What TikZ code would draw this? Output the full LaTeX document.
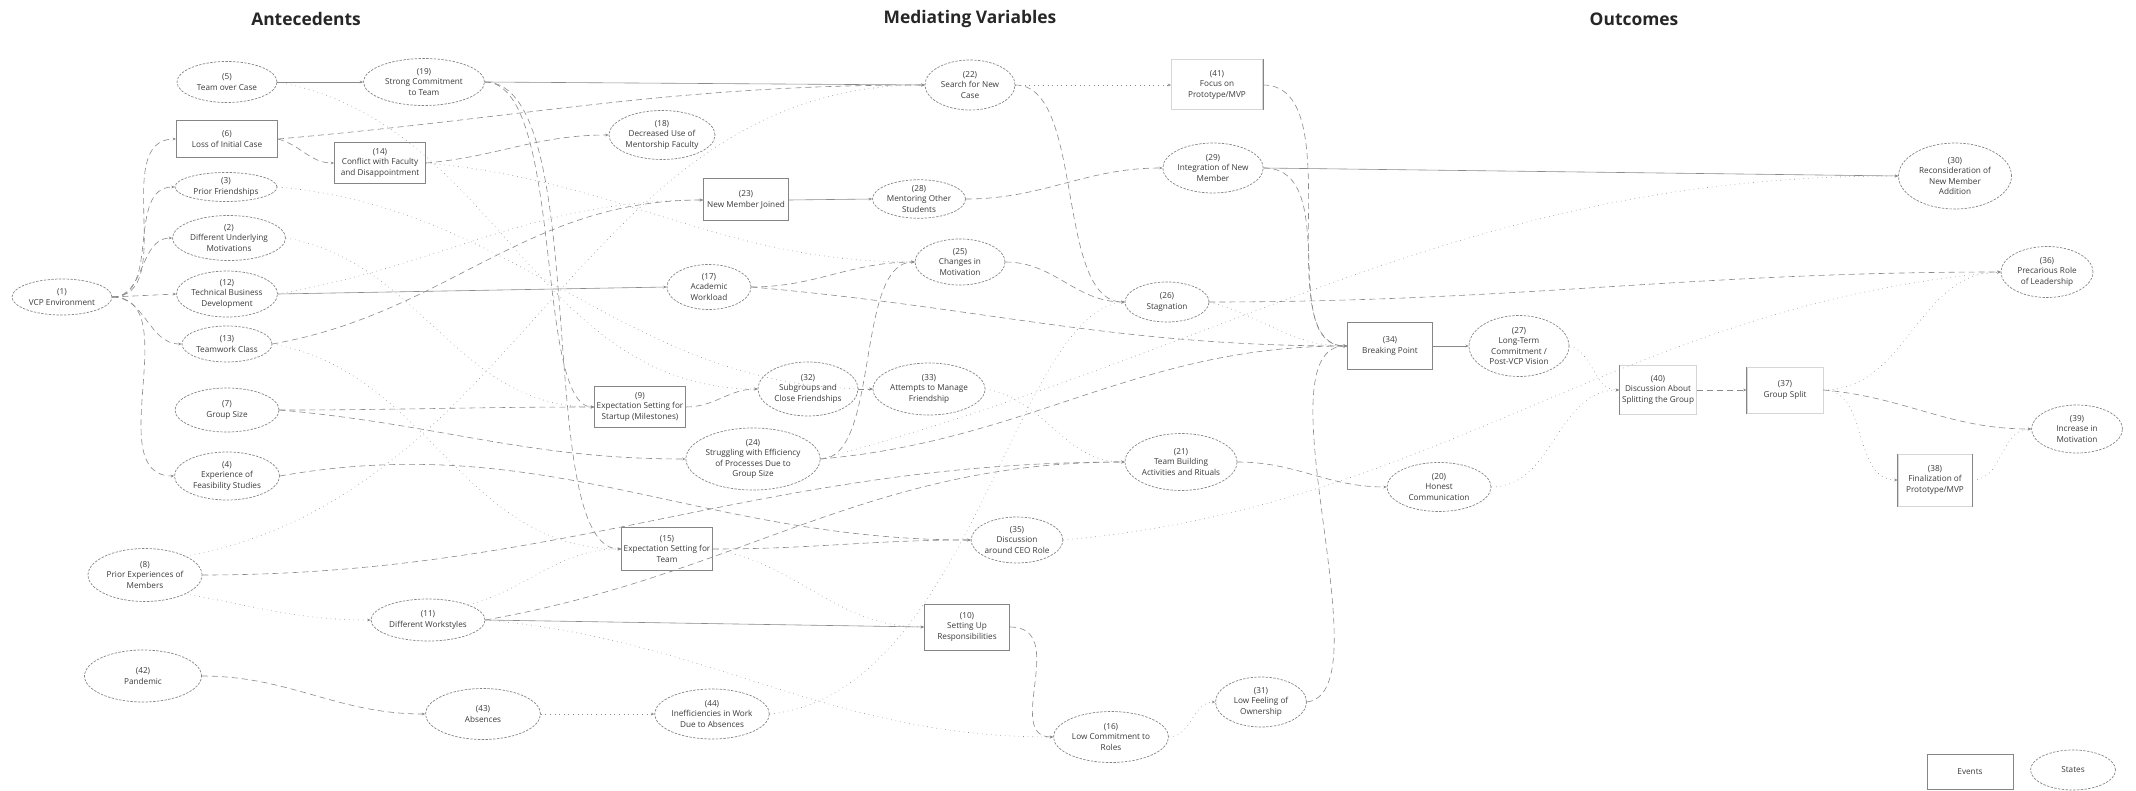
\documentclass[tikz,border=0pt]{standalone}
\usepackage{fontspec}
\setmainfont{Open Sans}
\usetikzlibrary{shapes.geometric,arrows.meta}
\definecolor{ink}{HTML}{3A3A3A}
\definecolor{edgegray}{HTML}{8A8A8A}
\definecolor{boxgray}{HTML}{858585}
\definecolor{faint}{HTML}{D6D6D6}
\newcommand{\nodefont}{\fontsize{4.1}{5.3}\selectfont}
\newcommand{\headfont}{\fontsize{8.7}{10}\selectfont\bfseries}
\tikzset{
  state/.style={ellipse, draw=boxgray, dash pattern=on 1.2pt off 0.7pt, line width=0.35pt,
                inner sep=0pt, align=center, font=\nodefont, text=ink},
  event/.style={rectangle, draw=boxgray, line width=0.5pt, inner sep=1pt,
                align=center, font=\nodefont, text=ink},
  faintevent/.style={event, draw=faint},
  heading/.style={font=\headfont, text=black!85},
  flow/.style={-{Stealth[length=1.7pt,width=1.4pt]}, line width=0.3pt, draw=edgegray},
  dashedflow/.style={flow, densely dashed},
  dottedflow/.style={flow, dotted},
  edgemark/.style={line width=0.5pt, draw=boxgray}
}
\begin{document}
\begin{tikzpicture}[x=0.5pt,y=-0.5pt]
\useasboundingbox (0,0) rectangle (2136,791);

\node[heading] (hant) at (306,19) {Antecedents};
\node[heading] (hmed) at (970,19) {Mediating Variables};
\node[heading] (hout) at (1634,19) {Outcomes};

\node[state, minimum width=50pt, minimum height=18pt] (n1) at (62,297) {(1)\\VCP Environment};
\node[state, minimum width=50pt, minimum height=20.5pt] (n5) at (227,82) {(5)\\Team over Case};
\node[event, minimum width=50.5pt, minimum height=18.5pt] (n6) at (227,139) {(6)\\Loss of Initial Case};
\node[state, minimum width=51pt, minimum height=14.5pt] (n3) at (226,187) {(3)\\Prior Friendships};
\node[state, minimum width=56.5pt, minimum height=22.5pt] (n2) at (229,238) {(2)\\Different Underlying\\Motivations};
\node[state, minimum width=50.5pt, minimum height=23pt] (n12) at (227,294) {(12)\\Technical Business\\Development};
\node[state, minimum width=45pt, minimum height=18pt] (n13) at (227,344) {(13)\\Teamwork Class};
\node[state, minimum width=52pt, minimum height=22pt] (n7) at (227,410) {(7)\\Group Size};
\node[state, minimum width=52.5pt, minimum height=24pt] (n4) at (227,476) {(4)\\Experience of\\Feasibility Studies};
\node[state, minimum width=57pt, minimum height=26.5pt] (n8) at (145,575) {(8)\\Prior Experiences of\\Members};
\node[state, minimum width=58.5pt, minimum height=26pt] (n42) at (143,676) {(42)\\Pandemic};

\node[state, minimum width=60.5pt, minimum height=23.5pt] (n19) at (424,82) {(19)\\Strong Commitment\\to Team};
\node[event, minimum width=45.5pt, minimum height=20.5pt] (n14) at (380,163) {(14)\\Conflict with Faculty\\and Disappointment};
\node[state, minimum width=53pt, minimum height=24.5pt] (n18) at (662,135) {(18)\\Decreased Use of\\Mentorship Faculty};
\node[event, minimum width=45pt, minimum height=20.5pt] (n9) at (640,407) {(9)\\Expectation Setting for\\Startup (Milestones)};
\node[event, minimum width=45pt, minimum height=21.5pt] (n15) at (667,549) {(15)\\Expectation Setting for\\Team};
\node[state, minimum width=57pt, minimum height=21pt] (n11) at (428,620) {(11)\\Different Workstyles};
\node[state, minimum width=57.5pt, minimum height=25.5pt] (n43) at (483,714) {(43)\\Absences};
\node[state, minimum width=57pt, minimum height=25pt] (n44) at (712,714) {(44)\\Inefficiencies in Work\\Due to Absences};

\node[state, minimum width=45pt, minimum height=25pt] (n22) at (970,85) {(22)\\Search for New\\Case};
\node[event, minimum width=42.5pt, minimum height=21pt] (n23) at (746,200) {(23)\\New Member Joined};
\node[state, minimum width=46.5pt, minimum height=19pt] (n28) at (919,199) {(28)\\Mentoring Other\\Students};
\node[state, minimum width=45pt, minimum height=23pt] (n25) at (960,262) {(25)\\Changes in\\Motivation};
\node[state, minimum width=42pt, minimum height=22.5pt] (n17) at (709,287) {(17)\\Academic\\Workload};
\node[state, minimum width=50pt, minimum height=27pt] (n32) at (808,389) {(32)\\Subgroups and\\Close Friendships};
\node[state, minimum width=56pt, minimum height=26pt] (n33) at (929,389) {(33)\\Attempts to Manage\\Friendship};
\node[state, minimum width=66pt, minimum height=31pt] (n24) at (753,459) {(24)\\Struggling with Efficiency\\of Processes Due to\\Group Size};
\node[state, minimum width=45pt, minimum height=23pt] (n35) at (1017,540) {(35)\\Discussion\\around CEO Role};
\node[event, minimum width=42.5pt, minimum height=23pt] (n10) at (967,627) {(10)\\Setting Up\\Responsibilities};
\node[state, minimum width=56pt, minimum height=28.5pt] (n21) at (1181,462) {(21)\\Team Building\\Activities and Rituals};
\node[state, minimum width=45.5pt, minimum height=25pt] (n31) at (1261,702) {(31)\\Low Feeling of\\Ownership};
\node[state, minimum width=57.5pt, minimum height=25.5pt] (n16) at (1111,737) {(16)\\Low Commitment to\\Roles};
\node[faintevent, minimum width=45.5pt, minimum height=25pt] (n41) at (1217,85) {(41)\\Focus on\\Prototype/MVP};
\node[state, minimum width=50pt, minimum height=25pt] (n29) at (1213,168) {(29)\\Integration of New\\Member};
\node[state, minimum width=42pt, minimum height=20pt] (n26) at (1167,302) {(26)\\Stagnation};

\node[event, minimum width=42.5pt, minimum height=23.5pt] (n34) at (1390,346) {(34)\\Breaking Point};
\node[state, minimum width=50pt, minimum height=30.5pt] (n27) at (1519,346) {(27)\\Long-Term\\Commitment /\\Post-VCP Vision};
\node[faintevent, minimum width=38.5pt, minimum height=24.5pt] (n40) at (1658,390) {(40)\\Discussion About\\Splitting the Group};
\node[faintevent, minimum width=38pt, minimum height=23pt] (n37) at (1785,390) {(37)\\Group Split};
\node[state, minimum width=56.5pt, minimum height=33pt] (n30) at (1955,176) {(30)\\Reconsideration of\\New Member\\Addition};
\node[state, minimum width=46pt, minimum height=25.5pt] (n36) at (2047,272) {(36)\\Precarious Role\\of Leadership};
\node[state, minimum width=45.5pt, minimum height=24pt] (n39) at (2077,429) {(39)\\Increase in\\Motivation};
\node[faintevent, minimum width=37pt, minimum height=26pt] (n38) at (1935,480) {(38)\\Finalization of\\Prototype/MVP};
\node[state, minimum width=52pt, minimum height=24.5pt] (n20) at (1439,487) {(20)\\Honest\\Communication};

\node[event, minimum width=43pt, minimum height=17.5pt] (events) at (1970,772) {Events};
\node[state, minimum width=42.5pt, minimum height=20pt] (states) at (2073,770) {States};

\draw[edgemark] (n41.north east) -- (n41.south east);
\draw[edgemark] (n40.north west) -- (n40.south west);
\draw[edgemark] (n37.north west) -- (n37.south west);
\draw[edgemark] (n38.north west) -- (n38.south west);
\draw[edgemark] (n38.north east) -- (n38.south east);

\draw[dashedflow] (n1.east) to[out=0,in=180] (n6.west);
\draw[dashedflow] (n1.east) to[out=0,in=180] (n3.west);
\draw[dashedflow] (n1.east) to[out=0,in=180] (n2.west);
\draw[dashedflow] (n1.east) -- (n12.west);
\draw[dashedflow] (n1.east) to[out=0,in=180] (n13.west);
\draw[dashedflow] (n1.east) to[out=0,in=180] (n4.west);

\draw[flow] (n5.east) -- (n19.west);
\draw[dottedflow] (n5.east) to[out=-10,in=180] (n32.west);
\draw[dashedflow] (n6.east) to[out=5,in=180] (n22.west);
\draw[dashedflow] (n6.east) to[out=-15,in=180] (n14.west);
\draw[dashedflow] (n14.east) to[out=5,in=180] (n18.west);
\draw[dottedflow] (n14.east) to[out=-5,in=180] (n25.west);
\draw[dottedflow] (n3.east) to[out=-5,in=180] (n33.west);
\draw[dottedflow] (n2.east) to[out=-10,in=180] (n9.west);
\draw[flow] (n12.east) -- (n17.west);
\draw[dottedflow] (n12.east) to[out=10,in=180] (n23.west);
\draw[dashedflow] (n13.east) to[out=10,in=180] (n23.west);
\draw[dottedflow] (n13.east) to[out=-10,in=180] (n15.west);
\draw[dashedflow] (n7.east) to[out=0,in=180] (n9.west);
\draw[dashedflow] (n7.east) to[out=-5,in=180] (n24.west);
\draw[dashedflow] (n4.east) to[out=10,in=180] (n35.west);
\draw[dottedflow] (n8.north east) to[out=10,in=180] (n22.west);
\draw[dashedflow] (n8.east) to[out=0,in=180] (n21.west);
\draw[dottedflow] (n8.south east) to[out=-10,in=180] (n11.west);

\draw[dashedflow] (n19.east) .. controls +(80,0) and +(-60,0) .. (n9.west);
\draw[dashedflow] (n19.east) .. controls +(110,0) and +(-90,0) .. (n15.west);
\draw[flow] (n19.east) -- (n22.west);
\draw[dashedflow] (n42.east) to[out=0,in=180] (n43.west);
\draw[dottedflow] (n43.east) -- (n44.west);
\draw[dottedflow] (n44.east) .. controls +(200,-20) and +(-110,10) .. (n26.west);
\draw[dottedflow] (n11.north east) to[out=15,in=180] (n15.west);
\draw[flow] (n11.east) -- (n10.west);
\draw[dottedflow] (n11.east) to[out=-5,in=180] (n16.west);
\draw[dashedflow] (n11.east) to[out=10,in=180] (n21.west);
\draw[dashedflow] (n9.east) to[out=0,in=180] (n32.west);
\draw[dashedflow] (n15.east) to[out=0,in=180] (n35.west);
\draw[dottedflow] (n15.east) to[out=-10,in=180] (n10.west);

\draw[dashedflow] (n17.east) to[out=0,in=180] (n25.west);
\draw[dashedflow] (n17.east) to[out=-5,in=180] (n34.west);
\draw[flow] (n23.east) -- (n28.west);
\draw[dashedflow] (n28.east) to[out=0,in=180] (n29.west);
\draw[dottedflow] (n22.east) -- (n41.west);
\draw[dashedflow] (n22.east) .. controls +(70,0) and +(-70,0) .. (n26.west);
\draw[dashedflow] (n25.east) to[out=0,in=180] (n26.west);
\draw[dashedflow] (n24.east) .. controls +(60,0) and +(-60,0) .. (n25.west);
\draw[dottedflow] (n24.east) to[out=15,in=180] (n30.west);
\draw[dashedflow] (n24.east) to[out=5,in=180] (n34.west);
\draw[dashedflow] (n32.east) -- (n33.west);
\draw[dottedflow] (n33.east) to[out=-10,in=180] (n21.west);
\draw[dashedflow] (n10.east) .. controls +(60,0) and +(-50,0) .. (n16.west);
\draw[dottedflow] (n16.east) to[out=0,in=180] (n31.west);
\draw[dashedflow] (n31.east) .. controls +(80,-10) and +(-90,0) .. (n34.west);

\draw[dashedflow] (n41.east) .. controls +(90,0) and +(-80,0) .. (n34.west);
\draw[dashedflow] (n29.east) .. controls +(80,0) and +(-70,0) .. (n34.west);
\draw[flow] (n29.east) -- (n30.west);
\draw[dottedflow] (n26.east) to[out=-15,in=180] (n34.west);
\draw[dashedflow] (n26.east) to[out=0,in=180] (n36.west);
\draw[flow] (n34.east) -- (n27.west);
\draw[dottedflow] (n27.east) to[out=-15,in=180] (n40.west);
\draw[dottedflow] (n20.east) to[out=0,in=180] (n40.west);
\draw[dashedflow] (n21.east) to[out=0,in=180] (n20.west);
\draw[dottedflow] (n35.east) to[out=5,in=185] (n36.west);
\draw[dashedflow] (n40.east) -- (n37.west);
\draw[dottedflow] (n37.east) to[out=0,in=180] (n36.west);
\draw[dashedflow] (n37.east) to[out=-5,in=180] (n39.west);
\draw[dottedflow] (n37.east) to[out=0,in=180] (n38.west);
\draw[dottedflow] (n38.east) to[out=0,in=180] (n39.west);
\end{tikzpicture}
\end{document}
